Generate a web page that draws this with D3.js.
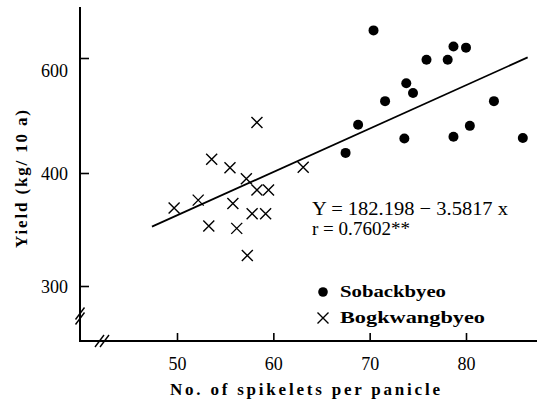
<!DOCTYPE html>
<html>
<head>
<meta charset="utf-8">
<script src="https://cdn.jsdelivr.net/npm/d3@7"></script>
<style>
html,body{margin:0;padding:0;background:#fff;}
svg{display:block;}
text{font-family:"Liberation Serif","DejaVu Serif",serif;fill:#000;}
</style>
</head>
<body>
<svg id="chart" width="544" height="400"></svg>
<script>
// ---- data ----
const xTicks = [50, 60, 70, 80];
const yTicks = [300, 400, 600];

// Sobackbyeo (filled circles)
const sobackX = [70.4, 78.7, 80.0, 75.9, 78.1, 73.8, 74.5, 71.6, 82.9, 68.8, 80.4, 73.6, 78.7, 85.9, 67.5];
const sobackY = [648, 620, 618, 597, 597, 556, 539, 525, 525, 484, 482, 460, 463, 461, 435];

// Bogkwangbyeo (crosses)
const bogX = [58.3, 53.6, 55.5, 57.2, 63.1, 58.3, 59.5, 49.7, 52.2, 55.8, 57.8, 59.2, 53.3, 56.2, 57.3];
const bogY = [488, 424, 409, 395, 410, 385, 385, 369, 376, 373, 364, 364, 353, 351, 327];

// regression line end points
const lineX = [47.4, 86.4];
const lineY = [352.5, 601];

const equationText = "Y = 182.198 \u2212 3.5817 x";
const rText = "r = 0.7602**";
const seriesNames = ["Sobackbyeo", "Bogkwangbyeo"];
const xTitle = "No. of spikelets per panicle";
const yTitle = "Yield (kg/ 10 a)";

// ---- layout ----
const svg = d3.select("#chart");
const mLeft = 80, mTop = 7, mBottom = 341, mRight = 537;

const x = d3.scaleLinear().domain([50, 80]).range([177, 466]);
const y = d3.scaleLinear().domain([300, 400, 600]).range([286, 173, 58]);

// axis lines
svg.append("line").attr("x1", mLeft).attr("x2", mLeft).attr("y1", mTop).attr("y2", mBottom)
  .attr("stroke", "#000").attr("stroke-width", 2);
svg.append("line").attr("x1", mLeft - 1).attr("x2", mRight).attr("y1", mBottom).attr("y2", mBottom)
  .attr("stroke", "#000").attr("stroke-width", 2);

// axes (ticks inward)
const yAxis = d3.axisLeft(y).tickValues(yTicks).tickSize(-9).tickPadding(12).tickFormat(d3.format("d"));
const gy = svg.append("g").attr("transform", `translate(${mLeft},0)`).call(yAxis);
gy.select(".domain").remove();
gy.selectAll(".tick line").attr("stroke", "#000").attr("stroke-width", 1.6);
gy.selectAll(".tick text").attr("font-size", 18).attr("font-family", "Liberation Serif")
  .attr("dy", (d) => d === 600 ? "1.0em" : "0.35em");

const xAxis = d3.axisBottom(x).tickValues(xTicks).tickSize(-8).tickPadding(16).tickFormat(d3.format("d"));
const gx = svg.append("g").attr("transform", `translate(0,${mBottom})`).call(xAxis);
gx.select(".domain").remove();
gx.selectAll(".tick line").attr("stroke", "#000").attr("stroke-width", 1.6);
gx.selectAll(".tick text").attr("font-size", 18).attr("font-family", "Liberation Serif");

// axis break marks
function breakMark(cx, cy, dx, dy) {
  [-2.5, 2.5].forEach(o => {
    svg.append("line")
      .attr("x1", cx - 4.5 + dx * o).attr("y1", cy + 6 + dy * o)
      .attr("x2", cx + 4.5 + dx * o).attr("y2", cy - 6 + dy * o)
      .attr("stroke", "#000").attr("stroke-width", 1.4);
  });
}
breakMark(mLeft, 316, 0, 1);
breakMark(102, mBottom, 1, 0);

// regression line
svg.append("path")
  .datum(lineX.map((d, i) => [d, lineY[i]]))
  .attr("d", d3.line().x(d => x(d[0])).y(d => y(d[1])))
  .attr("fill", "none").attr("stroke", "#000").attr("stroke-width", 1.8);

// circles
svg.append("g").selectAll("circle")
  .data(sobackX.map((d, i) => [d, sobackY[i]]))
  .join("circle")
  .attr("cx", d => x(d[0])).attr("cy", d => y(d[1])).attr("r", 5)
  .attr("fill", "#000");

// crosses
const cs = 5.5;
const crossPath = `M${-cs},${-cs}L${cs},${cs}M${-cs},${cs}L${cs},${-cs}`;
svg.append("g").selectAll("path")
  .data(bogX.map((d, i) => [d, bogY[i]]))
  .join("path")
  .attr("transform", d => `translate(${x(d[0])},${y(d[1])})`)
  .attr("d", crossPath)
  .attr("fill", "none").attr("stroke", "#000").attr("stroke-width", 1.4);

// equation
svg.append("text").attr("x", 312).attr("y", 215).attr("font-size", 19)
  .attr("textLength", 196).attr("lengthAdjust", "spacingAndGlyphs").text(equationText);
svg.append("text").attr("x", 312).attr("y", 235).attr("font-size", 19)
  .attr("textLength", 98).attr("lengthAdjust", "spacingAndGlyphs").text(rText);

// legend
svg.append("circle").attr("cx", 323).attr("cy", 292).attr("r", 4.8).attr("fill", "#000");
svg.append("text").attr("x", 340).attr("y", 297).attr("font-size", 17).attr("font-weight", "bold")
  .attr("textLength", 106).attr("lengthAdjust", "spacingAndGlyphs").text(seriesNames[0]);
svg.append("path").attr("transform", "translate(323,318)").attr("d", crossPath)
  .attr("fill", "none").attr("stroke", "#000").attr("stroke-width", 1.4);
svg.append("text").attr("x", 340).attr("y", 323).attr("font-size", 17).attr("font-weight", "bold")
  .attr("textLength", 145).attr("lengthAdjust", "spacingAndGlyphs").text(seriesNames[1]);

// axis titles
svg.append("text").attr("x", 305).attr("y", 395).attr("text-anchor", "middle")
  .attr("font-size", 17).attr("font-weight", "bold")
  .attr("textLength", 270).attr("lengthAdjust", "spacing").text(xTitle);
svg.append("text").attr("transform", "translate(27,179) rotate(-90)").attr("text-anchor", "middle")
  .attr("font-size", 17).attr("font-weight", "bold")
  .attr("textLength", 138).attr("lengthAdjust", "spacing").text(yTitle);
</script>
</body>
</html>
